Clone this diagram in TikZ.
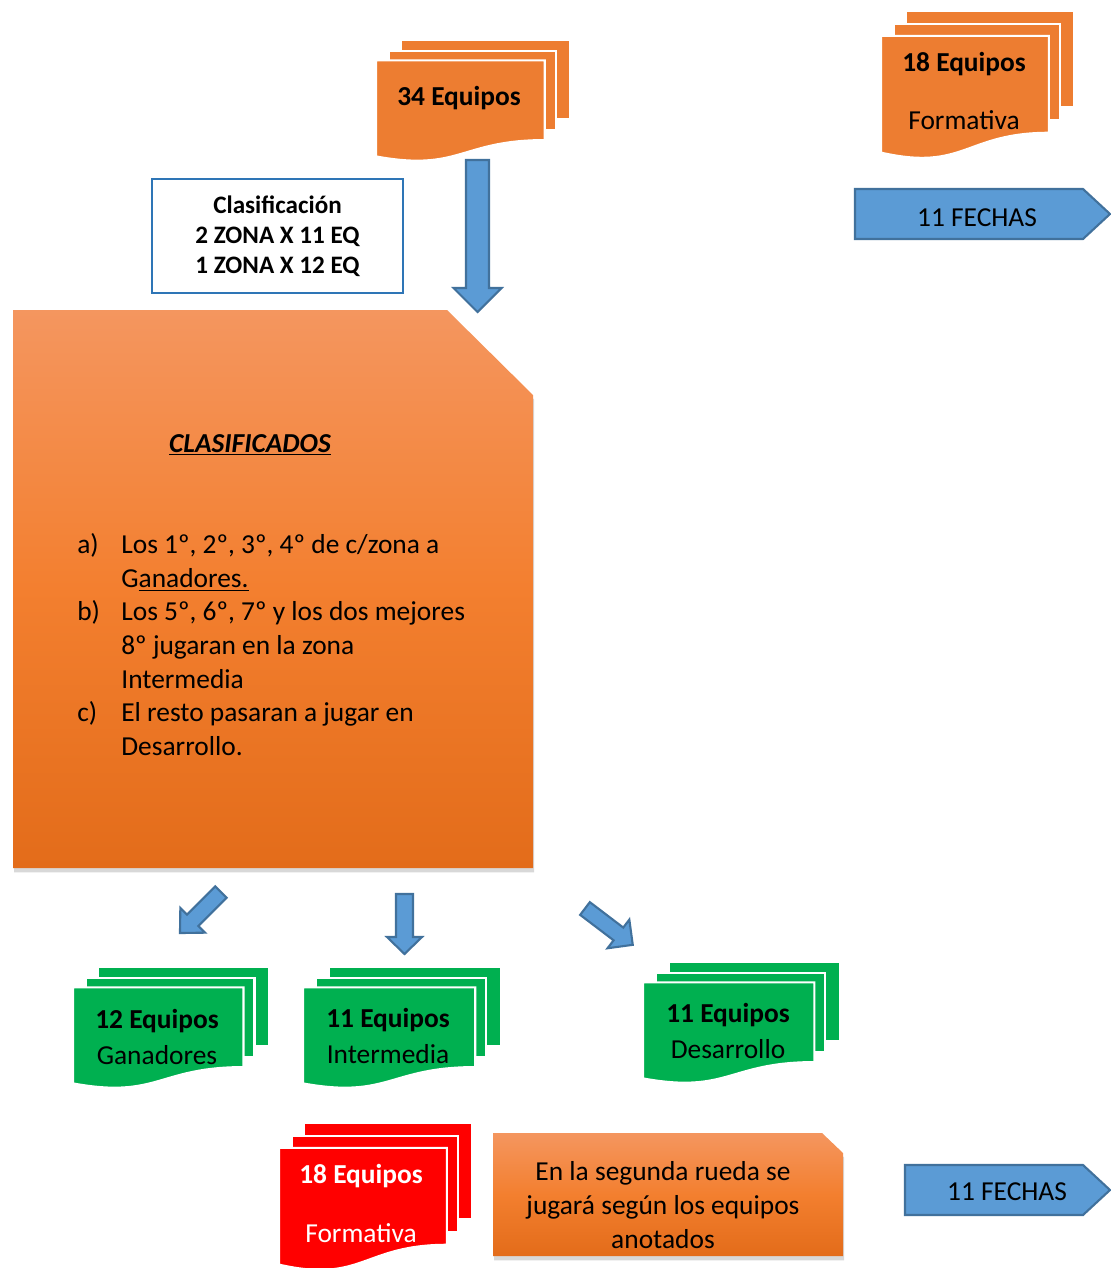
\documentclass[tikz,border=0pt]{standalone}
\usepackage{fontspec}
\setmainfont{Carlito}
\usetikzlibrary{shadows}

\definecolor{docorange}{HTML}{ED7D31}
\definecolor{docgreen}{HTML}{00B050}
\definecolor{docred}{HTML}{FF0000}
\definecolor{arrowblue}{HTML}{5B9BD5}
\definecolor{arrowline}{HTML}{41719C}
\definecolor{boxline}{HTML}{2E75B6}
\definecolor{gradtop}{HTML}{F4965F}
\definecolor{gradmid}{HTML}{F37F2F}
\definecolor{gradbot}{HTML}{E36C1A}

% three stacked sheets: left, top, width, height, colour
\newcommand{\multidoc}[5]{%
  \path[sheet=#5] ({#1+0.1296*#3},{#2}) rectangle ({#1+#3},{#2+0.66*#4});
  \path[sheet=#5] ({#1+0.0648*#3},{#2+0.0914*#4}) rectangle ({#1+0.926*#3},{#2+0.75*#4});
  \path[sheet=#5] (#1,{#2+0.17*#4}) -- ({#1+0.87*#3},{#2+0.17*#4}) -- ({#1+0.87*#3},{#2+0.834*#4})
    .. controls ({#1+0.435*#3},{#2+0.834*#4}) and ({#1+0.435*#3},{#2+1.1*#4}) .. (#1,{#2+0.97*#4}) -- cycle;
}
% block arrow: tail, angle, length, shaft width, head width, head length
\newcommand{\blockarrow}[6]{%
  \begin{scope}[shift={(#1)}, rotate=#2]
    \path[arrowfill] (0,{-#4/2}) -- ({#3-#6},{-#4/2}) -- ({#3-#6},{-#5/2}) -- (#3,0)
      -- ({#3-#6},{#5/2}) -- ({#3-#6},{#4/2}) -- (0,{#4/2}) -- cycle;
  \end{scope}
}

\begin{document}
\begin{tikzpicture}[x=0.02cm, y=-0.02cm,
    sheet/.style={fill=#1, draw=white, line width=1.2pt},
    arrowfill/.style={fill=arrowblue, draw=arrowline, line width=1.2pt},
    panelfill/.style={top color=gradtop, bottom color=gradbot, middle color=gradmid,
      drop shadow={shadow xshift=0.6pt, shadow yshift=-2.5pt, opacity=0.3}},
    doctitle/.style={font=\fontsize{15.6}{19}\selectfont\bfseries, inner sep=0pt},
    docsub/.style={font=\fontsize{15.6}{19}\selectfont, inner sep=0pt},
    body/.style={font=\fontsize{15.6}{19.1}\selectfont, inner sep=0pt},
    clasbox/.style={draw=boxline, line width=1pt, minimum width=5.02cm,
      minimum height=2.28cm, align=center, font=\fontsize{14.3}{17}\selectfont\bfseries}]
  \useasboundingbox (0,0) rectangle (1110,1268);
  \fill[white] (0,0) rectangle (1110,1268);

  % top row
  \multidoc{376}{40}{194}{120}{docorange}
  \node[doctitle] (eq34) at (459,98) {34 Equipos};
  \multidoc{881}{11}{193}{146}{docorange}
  \node[doctitle] (eq18top) at (964,64) {18 Equipos};
  \node[docsub] (formTop) at (964,120) {Formativa};
  \path[arrowfill] (855,189) -- (1083,189) -- (1110,214) -- (1083,239) -- (855,239) -- cycle;
  \node[docsub] (fechasTop) at (977,218) {11 FECHAS};

  \node[clasbox] (clasif) at (277.5,236) {Clasificación\\2 ZONA X 11 EQ\\1 ZONA X 12 EQ};
  \blockarrow{477.5,160}{-90}{152}{23}{48}{24}

  % main panel
  \path[panelfill] (13,310) -- (447,310) -- (533,395) -- (533,868) -- (13,868) -- cycle;
  \node[body, font=\fontsize{15.6}{19.1}\selectfont\bfseries\itshape] (clasTitle) at (250,445)
    {\underline{CLASIFICADOS}};
  \node[body, anchor=north west] (clasList) at (77,530) {%
    \begin{tabular}{@{}p{0.88cm}@{}l@{}}
      a) & Los 1º, 2º, 3º, 4º de c/zona a\\
         & G\underline{anadores.}\\
      b) & Los 5º, 6º, 7º y los dos mejores\\
         & 8º jugaran en la zona\\
         & Intermedia\\
      c) & El resto pasaran a jugar en\\
         & Desarrollo.
    \end{tabular}};

  % arrows to the three zones
  \blockarrow{221,892}{-135}{58}{16}{35}{18}
  \blockarrow{404.5,894}{-90}{60}{17}{35}{17}
  \blockarrow{585,908.5}{-37.25}{60}{16}{36}{18}

  % zones
  \multidoc{73}{967}{196}{120}{docgreen}
  \node[doctitle] (eq12) at (157,1021) {12 Equipos};
  \node[docsub] (ganad) at (157,1055) {Ganadores};
  \multidoc{303}{967}{198}{120}{docgreen}
  \node[doctitle] (eq11a) at (388,1020) {11 Equipos};
  \node[docsub] (interm) at (388,1054) {Intermedia};
  \multidoc{643}{962}{197}{120}{docgreen}
  \node[doctitle] (eq11b) at (728,1015) {11 Equipos};
  \node[docsub] (desarr) at (728,1049) {Desarrollo};

  % bottom row
  \multidoc{279}{1123}{193}{146}{docred}
  \node[doctitle, text=white] (eq18bot) at (361,1176) {18 Equipos};
  \node[docsub, text=white] (formBot) at (361,1233) {Formativa};
  \path[panelfill] (493,1133) -- (822,1133) -- (843,1153) -- (843,1256) -- (493,1256) -- cycle;
  \node[body, align=center, font=\fontsize{15.6}{19.3}\selectfont] (rueda) at (663,1205)
    {En la segunda rueda se\\jugará según los equipos\\anotados};
  \path[arrowfill] (905,1165) -- (1083,1165) -- (1110,1190) -- (1083,1215) -- (905,1215) -- cycle;
  \node[docsub] (fechasBot) at (1007,1192) {11 FECHAS};
\end{tikzpicture}
\end{document}
